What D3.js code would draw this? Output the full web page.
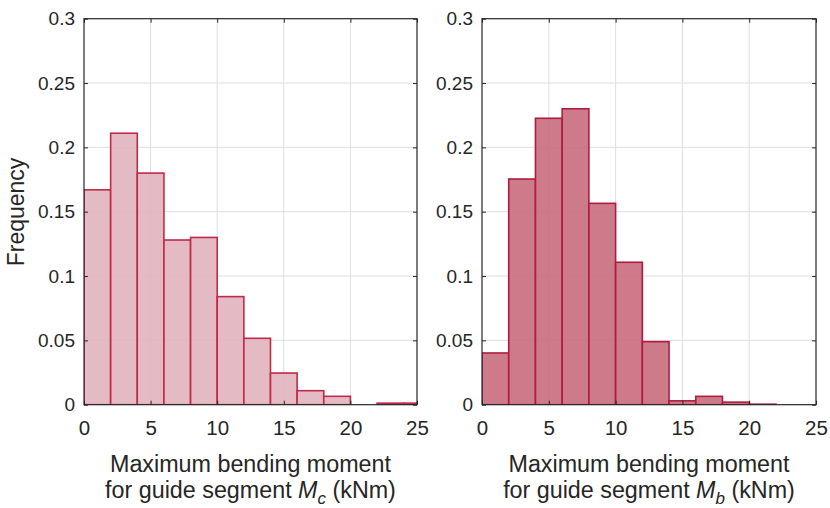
<!DOCTYPE html>
<html><head><meta charset="utf-8">
<script src="https://cdn.jsdelivr.net/npm/d3@7"></script>
<style>body{margin:0;background:#fff}svg{display:block}text{font-family:"Liberation Sans",Arial,sans-serif;fill:#262626}</style>
</head><body><svg id="c" width="830" height="508"></svg>
<script>
const binStarts = [0,2,4,6,8,10,12,14,16,18,20,22,24];
const binWidth = 2;
const valuesC = [0.167,0.211,0.180,0.128,0.130,0.084,0.0516,0.0246,0.0109,0.0065,0,0.0012,0.0012];
const valuesB = [0.0402,0.1754,0.2226,0.230,0.1565,0.1107,0.049,0.003,0.0065,0.002,0.0004,0,0];
const xTicks = [0,5,10,15,20,25];
const yTicks = [0,0.05,0.1,0.15,0.2,0.25,0.3];
const yTickLabels = ["0","0.05","0.1","0.15","0.2","0.25","0.3"];
const subs = ["c","b"];

(function(){
const svg = d3.select("#c");
const yTop = 18.7, yBot = 404.7;
const y = d3.scaleLinear().domain([0,0.3]).range([yBot, yTop]);

const panels = [
  {x0:84, x1:417, vals:valuesC, fill:"#e1b4be", stroke:"#c02a4a", sub:subs[0], id:"a"},
  {x0:482, x1:816, vals:valuesB, fill:"#c86b7d", stroke:"#b01c40", sub:subs[1], id:"b"}
];

panels.forEach(p => {
  const x = d3.scaleLinear().domain([0,25]).range([p.x0, p.x1]);
  const g = svg.append("g");
  g.append("clipPath").attr("id","clip"+p.id).append("rect")
    .attr("x",p.x0).attr("y",yTop).attr("width",p.x1-p.x0).attr("height",yBot-yTop);
  g.append("g").selectAll("line").data(xTicks.slice(1,-1)).join("line")
    .attr("x1",d=>x(d)).attr("x2",d=>x(d)).attr("y1",yTop).attr("y2",yBot)
    .attr("stroke","#dedede").attr("stroke-width",1);
  g.append("g").selectAll("line").data(yTicks.slice(1,-1)).join("line")
    .attr("y1",d=>y(d)).attr("y2",d=>y(d)).attr("x1",p.x0).attr("x2",p.x1)
    .attr("stroke","#dedede").attr("stroke-width",1);
  const data = binStarts.map((s,i)=>({s, v:p.vals[i]}));
  g.append("g").attr("clip-path","url(#clip"+p.id+")").selectAll("rect").data(data).join("rect")
    .attr("x",d=>x(d.s)).attr("width",d=>x(d.s+binWidth)-x(d.s))
    .attr("y",d=>y(d.v)).attr("height",d=>y(0)-y(d.v))
    .attr("fill",p.fill).attr("fill-opacity",0.9).attr("stroke",p.stroke).attr("stroke-width",1.6);
  g.append("rect").attr("x",p.x0).attr("y",yTop).attr("width",p.x1-p.x0).attr("height",yBot-yTop)
    .attr("fill","none").attr("stroke","#262626").attr("stroke-width",1.2);
  const ax = d3.axisBottom(x).tickValues(xTicks).tickSize(-4).tickPadding(16).tickFormat(d3.format("d"));
  const axg = g.append("g").attr("transform",`translate(0,${yBot})`).call(ax);
  const ay = d3.axisLeft(y).tickValues(yTicks).tickSize(-4).tickPadding(9).tickFormat((d,i)=>yTickLabels[i]);
  const ayg = g.append("g").attr("transform",`translate(${p.x0},0)`).call(ay);
  const ayr = d3.axisRight(y).tickValues(yTicks).tickSize(-4).tickFormat("");
  const ayrg = g.append("g").attr("transform",`translate(${p.x1},0)`).call(ayr);
  const axt = d3.axisTop(x).tickValues(xTicks).tickSize(-4).tickFormat("");
  const axtg = g.append("g").attr("transform",`translate(0,${yTop})`).call(axt);
  [axg,ayg,ayrg,axtg].forEach(a=>{a.select(".domain").remove(); a.selectAll(".tick line").attr("stroke","#262626");});
  axg.selectAll("text").attr("font-size",20.5).attr("fill","#262626").style("font-family","Liberation Sans, Arial, sans-serif").attr("dy","0.71em");
  ayg.selectAll("text").attr("font-size",19).attr("fill","#262626").style("font-family","Liberation Sans, Arial, sans-serif");
  const cx = (p.x0+p.x1)/2;
  g.append("text").attr("x",cx).attr("y",472).attr("text-anchor","middle").attr("font-size",23.3).text("Maximum bending moment");
  const t = g.append("text").attr("x",cx).attr("y",498).attr("text-anchor","middle").attr("font-size",23.3);
  t.append("tspan").text("for guide segment ");
  t.append("tspan").attr("font-style","italic").text("M");
  t.append("tspan").attr("font-style","italic").attr("font-size",17).attr("dy",6).text(p.sub);
  t.append("tspan").attr("dy",-6).text(" (kNm)");
});

svg.append("text").attr("transform","translate(24,212) rotate(-90)").attr("text-anchor","middle")
  .attr("font-size",23).text("Frequency");
})();
</script></body></html>
